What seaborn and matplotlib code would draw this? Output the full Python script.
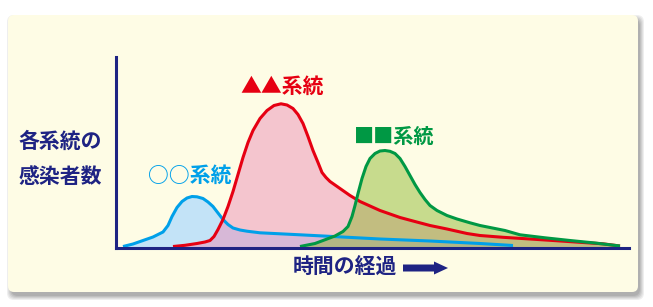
import numpy as np
import pandas as pd
import matplotlib
matplotlib.use("Agg")
import matplotlib.pyplot as plt
import seaborn as sns
from matplotlib.patches import FancyBboxPatch, FancyArrow
from matplotlib.transforms import IdentityTransform

# ---- data (time, infections) ----
blue_x = [123, 133, 143, 153, 163, 168, 172, 177, 182, 187, 192, 197, 203, 208, 213, 218, 223, 228, 233, 240, 247, 260, 300, 333, 380, 430, 480, 513]
blue_y = [1, 3.5, 7, 10.5, 15.5, 22, 31, 40, 46, 49.5, 51, 50.7, 49, 45.5, 41, 34.5, 28, 23, 19.5, 17.5, 16.3, 14.7, 12.7, 11, 8.5, 6.5, 4, 2]

red_x = [173, 185, 197, 205, 210, 214, 218, 223, 228, 233, 238, 243, 248, 253, 260, 267, 274, 281, 287, 293, 298, 303, 308, 313, 318, 322, 326, 330, 340, 350, 360, 380, 400, 413, 430, 447, 467, 480, 503, 530, 553, 580, 603, 620]
red_y = [1, 2.2, 4, 5.5, 7, 11, 18, 28, 41, 56, 73, 90, 105, 117, 129, 137, 142, 143.7, 142.5, 139, 133, 124, 111, 97, 85, 75, 70, 66, 59, 52, 46, 37, 30, 26.5, 22, 18.5, 14, 12, 10.2, 8.5, 7, 5.2, 3.7, 1.5]

green_x = [300, 315, 327, 335, 343, 348, 352, 355, 358, 362, 366, 370, 375, 380, 385, 390, 395, 400, 405, 410, 415, 420, 425, 430, 437, 447, 457, 470, 480, 490, 505, 520, 545, 570, 595, 620]
green_y = [1, 4, 8.5, 11.5, 16, 21, 31, 42, 54, 69, 81, 89, 94, 96.5, 97, 96.2, 94, 89, 81, 72, 63, 55, 48, 42, 37, 32, 28.5, 24.7, 22, 20, 17, 12.7, 9.7, 7, 4.5, 1.5]

series_names = ["○○系統", "▲▲系統", "■■系統"]
y_label_lines = ["各系統の", "感染者数"]
x_label = "時間の経過"

# ---- style ----
sns.set_theme(style="white")
plt.rcParams["font.family"] = ["Noto Sans CJK JP", "DejaVu Sans"]

W, H = 653, 307
fig = plt.figure(figsize=(W / 100, H / 100), dpi=100)
fig.patch.set_facecolor("white")

navy = "#1E2383"
c_blue, c_red, c_green = "#00A0E9", "#E60012", "#009844"
cream = "#FEFCE5"

# panel with soft shadow (display pixel coords, origin bottom-left)
px0, py0, pw, ph = 8, 15, 630, 277
for i, a in enumerate([0.10, 0.10, 0.12, 0.14, 0.16]):
    grow = 4 - i
    sh = FancyBboxPatch((px0 + 3 - grow, py0 - 4 - grow), pw + 2 * grow - 1, ph + 2 * grow,
                        boxstyle="round,pad=0,rounding_size=7",
                        transform=IdentityTransform(), facecolor="#606060",
                        edgecolor="none", alpha=a, zorder=0)
    fig.patches.append(sh)
panel = FancyBboxPatch((px0, py0), pw, ph, boxstyle="round,pad=0,rounding_size=6",
                       transform=IdentityTransform(), facecolor=cream,
                       edgecolor="none", zorder=0.5)
fig.patches.append(panel)

# axes: x data = pixel x, y data = 247.5 - pixel y
L, R, T, B = 116, 629, 57, 247.5
ax = fig.add_axes([L / W, 1 - B / H, (R - L) / W, (B - T) / H])
ax.set_zorder(2)
ax.set_facecolor("none")
ax.patch.set_alpha(0)
ax.set_xlim(L, R)
ax.set_ylim(0, B - T)

ax.fill_between(blue_x, blue_y, 0, color="#C3E3F7", lw=0, zorder=1)
ax.fill_between(red_x, red_y, 0, color=(235/255, 143/255, 184/255), alpha=0.5, lw=0, zorder=1.1)
ax.fill_between(green_x, green_y, 0, color=(133/255, 180/255, 34/255), alpha=0.45, lw=0, zorder=1.2)

for xs, ys, c in [(blue_x, blue_y, c_blue), (red_x, red_y, c_red), (green_x, green_y, c_green)]:
    sns.lineplot(x=xs, y=ys, ax=ax, color=c, lw=2.2, estimator=None, sort=False,
                 legend=False, zorder=2)
for l in ax.lines:
    l.set_solid_joinstyle("round")
    l.set_solid_capstyle("butt")

for s in ["top", "right"]:
    ax.spines[s].set_visible(False)
for s in ["left", "bottom"]:
    ax.spines[s].set_color(navy)
    ax.spines[s].set_linewidth(2.2)
    ax.spines[s].set_zorder(3)
ax.set_xticks([])
ax.set_yticks([])
ax.set_xlabel("")
ax.set_ylabel("")

def ftext(px, py, s, color, size=15):
    fig.text(px / W, 1 - py / H, s, color=color, fontsize=size, fontweight="bold",
             ha="center", va="center", zorder=5)

ftext(190, 175.5, series_names[0], c_blue)
ftext(282.5, 86.5, series_names[1], c_red)
ftext(394, 136.5, series_names[2], c_green, size=14.5)
ftext(60, 141.5, y_label_lines[0], navy)
ftext(60, 176.5, y_label_lines[1], navy)
ftext(344.5, 267.5, x_label, navy)

arrow = FancyArrow(403, H - 268, 31, 0, width=7, head_width=13, head_length=14,
                   length_includes_head=False, transform=IdentityTransform(),
                   color=navy, lw=0, zorder=5)
fig.patches.append(arrow)

fig.savefig("out.png", dpi=100, facecolor="white")
